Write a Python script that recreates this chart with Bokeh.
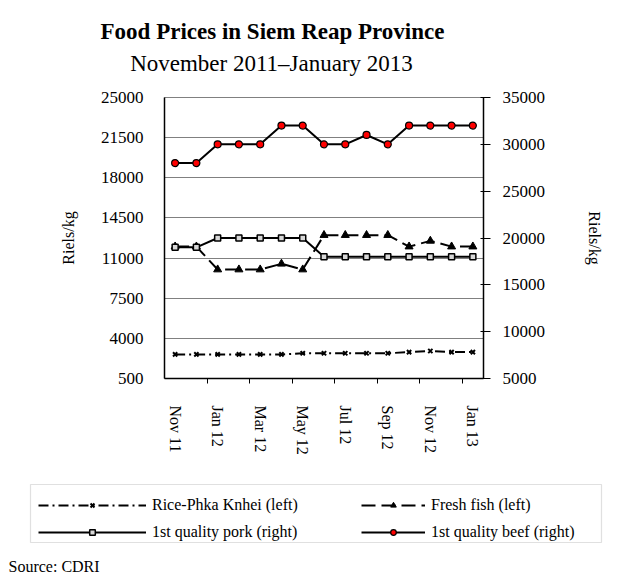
from bokeh.plotting import figure
from bokeh.layouts import column
from bokeh.models import (Range1d, LinearAxis, FixedTicker, Label, Legend, LegendItem,
                          BoxAnnotation)
from bokeh.embed import file_html
from bokeh.resources import INLINE

# ---- data ----
months = ["Nov 11", "Dec 11", "Jan 12", "Feb 12", "Mar 12", "Apr 12", "May 12", "Jun 12",
          "Jul 12", "Aug 12", "Sep 12", "Oct 12", "Nov 12", "Dec 12", "Jan 13"]
rice = [2600, 2600, 2600, 2600, 2600, 2600, 2700, 2700, 2700, 2700, 2700, 2800, 2900, 2800, 2800]
fish = [12000, 12000, 10000, 10000, 10000, 10500, 10000, 13000, 13000, 13000, 13000, 12000, 12500, 12000, 12000]
pork = [19000, 19000, 20000, 20000, 20000, 20000, 20000, 18000, 18000, 18000, 18000, 18000, 18000, 18000, 18000]
beef = [28000, 28000, 30000, 30000, 30000, 32000, 32000, 30000, 30000, 31000, 30000, 32000, 32000, 32000, 32000]
left_ticks = [500, 4000, 7500, 11000, 14500, 18000, 21500, 25000]
right_ticks = [5000, 10000, 15000, 20000, 25000, 30000, 35000]
series_names = ["Rice-Phka Knhei (left)", "Fresh fish (left)", "1st quality pork (right)", "1st quality beef (right)"]
title = "Food Prices in Siem Reap Province"
subtitle = "November 2011\u2013January 2013"
source = "Source: CDRI"
label_every = 2

FONT = "Liberation Serif"
W = 625
H_TOP, H_MAIN, H_BOT = 85, 385, 106
x = list(range(len(months)))
series = {"rice": rice, "fish": fish, "pork": pork, "beef": beef}

# styles
STY = {
    "rice": dict(line=dict(line_color="black", line_width=2, line_dash="10 4 2 4"),
                 mark=dict(marker="x", size=6, line_color="black", line_width=2)),
    "fish": dict(line=dict(line_color="black", line_width=2, line_dash="14 6"),
                 mark=dict(marker="triangle", size=8, fill_color="black", line_color="black")),
    "pork": dict(line=dict(line_color="black", line_width=2),
                 mark=dict(marker="square", size=6, fill_color="#d8d8d8", line_color="black", line_width=1.5)),
    "beef": dict(line=dict(line_color="black", line_width=2),
                 mark=dict(marker="circle", size=7, fill_color="red", line_color="black", line_width=1.2)),
}


def blank_fig(h):
    f = figure(width=W, height=h, output_backend="svg", toolbar_location=None,
               x_range=Range1d(0, W), y_range=Range1d(0, h), frame_align=False,
               min_border=0, min_border_left=0, min_border_right=0, min_border_top=0, min_border_bottom=0)
    f.axis.visible = False
    f.grid.visible = False
    f.outline_line_color = None
    f.background_fill_color = "white"
    f.border_fill_color = "white"
    return f


# ---- title figure ----
pt = blank_fig(H_TOP)
pt.add_layout(Label(x=272, y=H_TOP - 31, text=title, text_font=FONT, text_font_size="23px",
                    text_font_style="bold", text_align="center", text_baseline="alphabetic",
                    text_color="black"))
pt.add_layout(Label(x=271, y=H_TOP - 63, text=subtitle, text_font=FONT, text_font_size="23px",
                    text_align="center", text_baseline="alphabetic", text_color="black"))

# ---- main figure ----
p = figure(width=W, height=H_MAIN, output_backend="svg", toolbar_location=None, frame_align=False,
           x_range=Range1d(-0.5, len(months) - 0.5),
           y_range=Range1d(left_ticks[0], left_ticks[-1]),
           min_border_left=164, min_border_right=W - 164 - 319, min_border_top=12,
           min_border_bottom=H_MAIN - 12 - 281)
p.outline_line_color = "#808080"
p.outline_line_width = 1
p.background_fill_color = "white"
p.border_fill_color = "white"
p.extra_y_ranges = {"right": Range1d(right_ticks[0], right_ticks[-1])}

xa = p.xaxis[0]
xa.ticker = FixedTicker(ticks=x[::label_every],
                        minor_ticks=[i + 1.5 for i in x[::label_every][:-1]])
xa.major_label_overrides = {i: months[i] for i in x[::label_every]}
xa.major_label_orientation = "vertical"
xa.major_tick_out = 0
xa.major_tick_in = 0
xa.minor_tick_out = 5
xa.minor_tick_in = 0
xa.minor_tick_line_color = "black"
xa.major_label_standoff = 22
xa.major_label_text_font = FONT
xa.major_label_text_font_size = "16px"
xa.major_label_text_color = "black"
xa.axis_line_color = "black"
xa.axis_line_width = 1.5

ya = p.yaxis[0]
ya.ticker = FixedTicker(ticks=left_ticks)
ya.major_tick_out = 0
ya.major_tick_in = 0
ya.minor_tick_line_color = None
ya.major_label_standoff = 21
ya.major_label_text_font = FONT
ya.major_label_text_font_size = "17px"
ya.major_label_text_color = "black"
ya.axis_line_color = "black"
ya.axis_line_width = 1.5
ya.axis_label = "Riels/kg"
ya.axis_label_text_font = FONT
ya.axis_label_text_font_style = "normal"
ya.axis_label_text_font_size = "16px"
ya.axis_label_text_color = "black"
ya.axis_label_standoff = 21

ra = LinearAxis(y_range_name="right", ticker=FixedTicker(ticks=right_ticks))
ra.major_tick_out = 7
ra.major_tick_in = 3
ra.minor_tick_line_color = None
ra.major_label_standoff = 12
ra.major_label_text_font = FONT
ra.major_label_text_font_size = "17px"
ra.major_label_text_color = "black"
ra.axis_line_color = "black"
ra.axis_line_width = 1.5
ra.axis_label = "Riels/kg"
ra.axis_label_text_font = FONT
ra.axis_label_text_font_style = "normal"
ra.axis_label_text_font_size = "16px"
ra.axis_label_text_color = "black"
ra.axis_label_standoff = 38
p.add_layout(ra, "right")

p.xgrid.grid_line_color = None
p.ygrid.ticker = FixedTicker(ticks=left_ticks)
p.ygrid.grid_line_color = "#808080"
p.ygrid.grid_line_width = 1

p.line(x, rice, **STY["rice"]["line"])
p.scatter(x, rice, **STY["rice"]["mark"])
p.line(x, fish, **STY["fish"]["line"])
p.scatter(x, fish, **STY["fish"]["mark"])
p.line(x, pork, y_range_name="right", **STY["pork"]["line"])
p.scatter(x, pork, y_range_name="right", **STY["pork"]["mark"])
p.line(x, beef, y_range_name="right", **STY["beef"]["line"])
p.scatter(x, beef, y_range_name="right", **STY["beef"]["mark"])

# ---- legend / source figure ----
# legend sample renderers: first value of each series, which lies outside this strip's view
pb = blank_fig(H_BOT)
lr = {}
for key in ["rice", "fish", "pork", "beef"]:
    l = pb.line(x=x[:1], y=series[key][:1], **STY[key]["line"])
    m = pb.scatter(x=x[:1], y=series[key][:1], **STY[key]["mark"])
    lr[key] = [l, m]


def mk_legend(items, loc, gw):
    lg = Legend(items=items, location=loc, orientation="vertical", glyph_width=gw, glyph_height=14,
                label_height=20, label_standoff=6, spacing=7, padding=6, margin=0,
                border_line_color=None, background_fill_alpha=0,
                label_text_font=FONT, label_text_font_size="16px", label_text_color="black")
    pb.add_layout(lg, "center")
    return lg


mk_legend([LegendItem(label=series_names[0], renderers=lr["rice"]),
           LegendItem(label=series_names[2], renderers=lr["pork"])],
          (38, H_BOT - 72), 108)
mk_legend([LegendItem(label=series_names[1], renderers=lr["fish"]),
           LegendItem(label=series_names[3], renderers=lr["beef"])],
          (361, H_BOT - 72), 64)

pb.add_layout(BoxAnnotation(left=30, right=601, top=H_BOT - 14, bottom=H_BOT - 72,
                            fill_alpha=0, fill_color=None, line_color="#999999", line_width=1.2))
pb.add_layout(Label(x=8, y=10, text=source, text_font=FONT, text_font_size="16px",
                    text_align="left", text_baseline="alphabetic", text_color="black"))

layout = column(pt, p, pb, spacing=0)
open("out.html", "w").write(file_html(layout, INLINE))
